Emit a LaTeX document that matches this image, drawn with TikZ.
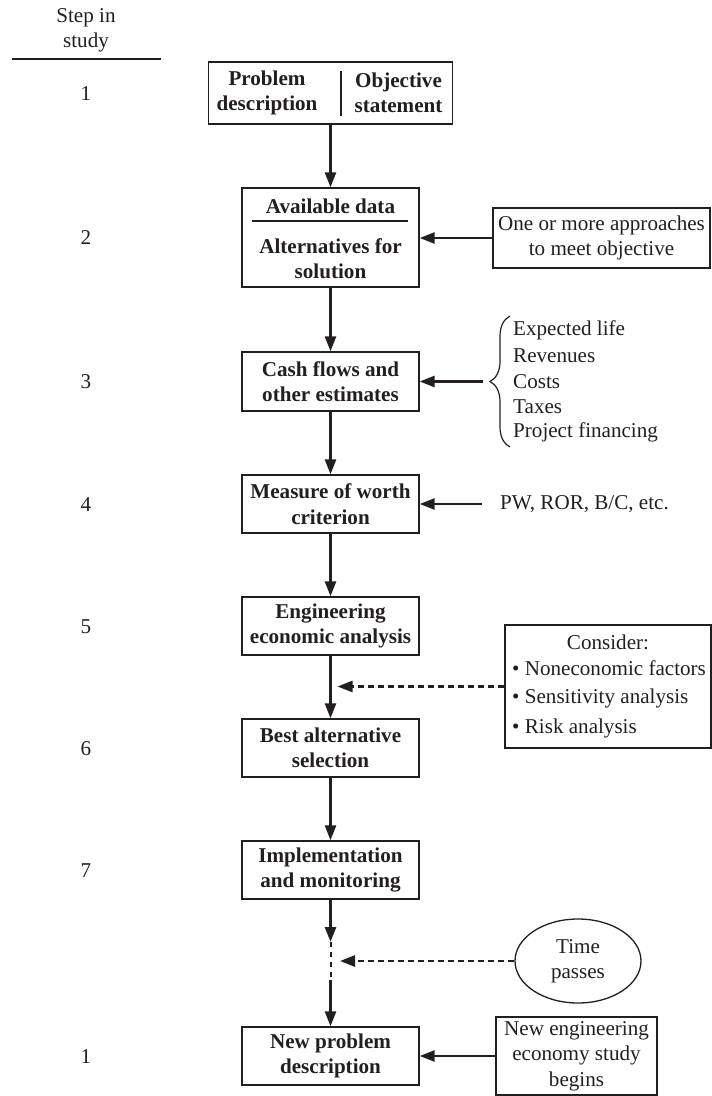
\documentclass[tikz,border=0pt]{standalone}
\usepackage{fontspec}
\setmainfont{Liberation Serif}
\usetikzlibrary{arrows.meta,shapes.geometric,decorations.pathreplacing}
\definecolor{ink}{RGB}{35,31,32}
\newcommand\myfs{\fontsize{21.1}{25.5}\selectfont}
\begin{document}
\begin{tikzpicture}[x=1pt,y=-1pt,
  box/.style={draw=ink, line width=1.3pt, inner sep=0pt, minimum width=177pt,
    minimum height=58pt, align=center, font=\bfseries\myfs, text=ink},
  sidebox/.style={draw=ink, line width=1.3pt, inner sep=0pt, align=center,
    font=\myfs, text=ink},
  txt/.style={inner sep=0pt, align=center, font=\myfs, text=ink},
  btxt/.style={inner sep=0pt, align=center, font=\bfseries\myfs, text=ink},
  arr/.style={draw=ink, line width=2.6pt, -{Triangle[length=15pt,width=11pt]}},
  darr/.style={arr, line width=2.4pt, dash pattern=on 6pt off 4pt},
  thinline/.style={draw=ink, line width=1.2pt}]
\useasboundingbox (0,0) rectangle (712,1096);
\fill[white] (0,0) rectangle (712,1096);

% header
\node[txt] (hd) at (86,30.5) {Step in\\study};
\draw[thinline] (12,59) -- (161,59);

% step numbers
\node[txt] (n1) at (86,94) {1};
\node[txt] (n2) at (86,238) {2};
\node[txt] (n3) at (86,382) {3};
\node[txt] (n4) at (86,505) {4};
\node[txt] (n5) at (86,627) {5};
\node[txt] (n6) at (86,749) {6};
\node[txt] (n7) at (86,871) {7};
\node[txt] (n8) at (86,1057) {1};

% box 1
\node[box, minimum width=244pt, minimum height=62pt] (b1) at (330.5,93) {};
\node[btxt] (b1l) at (267,93) {Problem\\description};
\node[btxt] (b1r) at (398.5,93) {Objective\\statement};
\draw[thinline] (341,71) -- (341,116);

% box 2
\node[box, minimum height=99pt] (b2) at (330.5,237.5) {};
\node[btxt] (b2a) at (330.5,206) {Available data};
\draw[thinline] (252,221) -- (408,221);
\node[btxt] (b2b) at (330.5,258.5) {Alternatives for\\solution};

% boxes 3-8
\node[box, minimum height=59pt] (b3) at (330.5,381.5) {Cash flows and\\other estimates};
\node[box] (b4) at (330.5,504) {Measure of worth\\criterion};
\node[box] (b5) at (330.5,626) {Engineering\\economic analysis};
\node[box] (b6) at (330.5,748) {Best alternative\\selection};
\node[box] (b7) at (330.5,870) {Implementation\\and monitoring};
\node[box] (b8) at (330.5,1056) {New problem\\description};

% side items
\node[sidebox, minimum width=217pt, minimum height=60pt] (s1) at (601.5,238)
  {One or more approaches\\to meet objective};

\draw[ink, line width=1.2pt, decorate, decoration={brace, amplitude=20pt}]
  (510,447) -- (510,316);
\coordinate (br) at (483,381.5);
\node[txt, anchor=west] (l1) at (513,330) {Expected life};
\node[txt, anchor=west] (l2) at (513,356) {Revenues};
\node[txt, anchor=west] (l3) at (513,382) {Costs};
\node[txt, anchor=west] (l4) at (513,407) {Taxes};
\node[txt, anchor=west] (l5) at (513,432) {Project financing};

\node[txt, anchor=west] (pw) at (500,504) {PW, ROR, B/C, etc.};
\coordinate (pwa) at (482,504);

\node[sidebox, minimum width=206pt, minimum height=123pt] (cons) at (608,686.5) {};
\node[txt] (c0) at (608,642) {Consider:};
\node[txt, anchor=west] (c1) at (512,668) {• Noneconomic factors};
\node[txt, anchor=west] (c2) at (512,698) {• Sensitivity analysis};
\node[txt, anchor=west] (c3) at (512,728) {• Risk analysis};
\coordinate (ct) at (337.5,686.5);

\node[draw=ink, line width=1.3pt, ellipse, minimum width=126pt, minimum height=84pt,
  inner sep=0pt, align=center, font=\myfs, text=ink] (tp) at (578,961) {Time\\passes};
\coordinate (tt) at (340,961);

\node[sidebox, minimum width=161pt, minimum height=78pt] (nb) at (576.5,1056)
  {New engineering\\economy study\\begins};

% connectors
\draw[arr] (b1.south) -- (b2.north);
\draw[arr] (b2.south) -- (b3.north);
\draw[arr] (b3.south) -- (b4.north);
\draw[arr] (b4.south) -- (b5.north);
\draw[arr] (b5.south) -- (b6.north);
\draw[arr] (b6.south) -- (b7.north);
\coordinate (q1) at (330.5,942);
\coordinate (q2) at (330.5,980);
\draw[arr] (b7.south) -- (q1);
\draw[ink, line width=2pt, dash pattern=on 5pt off 5pt] (q1) -- (q2);
\draw[arr] (q2) -- (b8.north);

\draw[arr] (s1.west) -- (s1.west -| b2.east);
\draw[arr] (br) -- (br -| b3.east);
\draw[arr] (pwa) -- (pwa -| b4.east);
\draw[darr] (cons.west) -- (ct);
\draw[darr] (tp.west) -- (tt);
\draw[arr] (nb.west) -- (nb.west -| b8.east);
\end{tikzpicture}
\end{document}
